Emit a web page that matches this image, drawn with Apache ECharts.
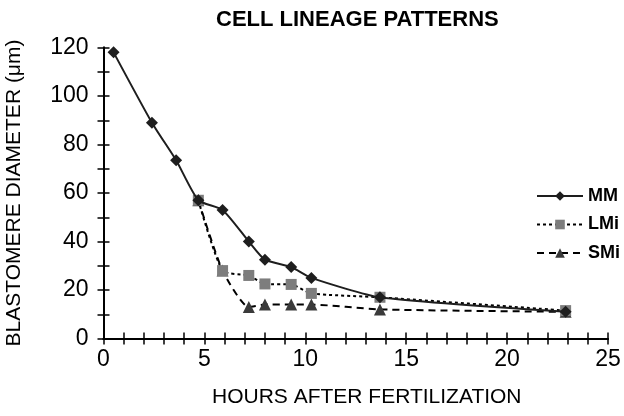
<!DOCTYPE html>
<html><head><meta charset="utf-8">
<script src="https://cdn.jsdelivr.net/npm/echarts@6/dist/echarts.min.js"></script>
<style>html,body{margin:0;padding:0;background:#fff}#c{width:624px;height:416px}</style>
</head><body><div id="c"></div>
<script>
const titleText = 'CELL LINEAGE PATTERNS';
const xName = 'HOURS AFTER FERTILIZATION';
const yName = 'BLASTOMERE DIAMETER (\u03bcm)';
const seriesNames = ['MM', 'LMi', 'SMi'];
const mmHours = [0.5, 2.4, 3.6, 4.7, 5.9, 7.2, 8.0, 9.3, 10.3, 13.7, 22.9];
const mmDiam  = [118, 89, 73.5, 57, 53, 40, 32.5, 29.5, 25, 17, 11];
const lmiHours = [4.7, 5.9, 7.2, 8.0, 9.3, 10.3, 13.7, 22.9];
const lmiDiam  = [57, 28, 26, 22.5, 22.3, 18.6, 17, 11.5];
const smiHours = [4.7, 5.9, 7.2, 8.0, 9.3, 10.3, 13.7, 22.9];
const smiDiam  = [57, 28, 13, 14, 14, 14, 12, 11];

const pairs = (xs, ys) => xs.map((x, i) => [x, ys[i]]);
const font = 'Liberation Sans, Arial, sans-serif';

const baseX = {
  type: 'value', min: 0, max: 25, interval: 1, position: 'bottom',
  splitLine: { show: false },
  axisLine: { show: true, lineStyle: { color: '#000', width: 2 } }
};
const baseY = {
  type: 'value', min: 0, max: 120, interval: 10, position: 'left',
  splitLine: { show: false },
  axisLine: { show: true, lineStyle: { color: '#000', width: 2 } }
};

const chart = echarts.init(document.getElementById('c'), null, { renderer: 'canvas' });
chart.setOption({
  backgroundColor: '#fff',
  animation: false,
  title: {
    text: titleText, left: 211, top: 4,
    textStyle: { fontFamily: font, fontWeight: 'bold', fontSize: 22, color: '#000' }
  },
  legend: {
    orient: 'vertical', left: 531, top: 182,
    itemWidth: 46, itemHeight: 12, itemGap: 10.5,
    data: seriesNames,
    textStyle: { fontFamily: font, fontWeight: 'bold', fontSize: 18, color: '#000' }
  },
  grid: { left: 103.5, right: 16, top: 47.5, bottom: 77.5, containLabel: false, outerBoundsMode: 'none' },
  xAxis: [
    Object.assign({}, baseX, {
      name: xName, nameLocation: 'middle', nameGap: 48,
      nameTextStyle: { fontFamily: font, fontSize: 21, color: '#000', padding: [0, 0, 0, 22] },
      axisTick: { show: true, inside: false, length: 6, lineStyle: { color: '#000', width: 1.5 } },
      axisLabel: { show: true, margin: 10, fontFamily: font, fontSize: 23, color: '#000',
        formatter: v => (v % 5 === 0 ? String(v) : '') }
    }),
    Object.assign({}, baseX, {
      axisTick: { show: true, inside: true, length: 6, lineStyle: { color: '#000', width: 1.5 } },
      axisLabel: { show: false }
    })
  ],
  yAxis: [
    Object.assign({}, baseY, {
      name: yName, nameLocation: 'middle', nameGap: 79,
      nameTextStyle: { fontFamily: font, fontSize: 21, color: '#000' },
      axisTick: { show: true, inside: false, length: 6, lineStyle: { color: '#000', width: 1.5 } },
      axisLabel: { show: true, margin: 15, fontFamily: font, fontSize: 23, color: '#000',
        formatter: v => (v % 20 === 0 ? String(v) : '') }
    }),
    Object.assign({}, baseY, {
      axisTick: { show: true, inside: true, length: 6, lineStyle: { color: '#000', width: 1.5 } },
      axisLabel: { show: false }
    })
  ],
  series: [
    {
      name: seriesNames[0], type: 'line', data: pairs(mmHours, mmDiam), smooth: 0.2,
      symbol: 'diamond', symbolSize: 12,
      itemStyle: { color: '#1e1e1e' },
      lineStyle: { color: '#1e1e1e', width: 2, type: 'solid' }, z: 3
    },
    {
      name: seriesNames[1], type: 'line', data: pairs(lmiHours, lmiDiam), smooth: 0.2,
      symbol: 'rect', symbolSize: 11,
      itemStyle: { color: '#7d7d7d' },
      lineStyle: { color: '#000', width: 2, type: [3, 3] }, z: 2
    },
    {
      name: seriesNames[2], type: 'line', data: pairs(smiHours, smiDiam), smooth: 0.2,
      symbol: 'triangle', symbolSize: 12,
      itemStyle: { color: '#3a3a3a' },
      lineStyle: { color: '#000', width: 2, type: [7, 5] }, z: 1
    }
  ]
});
</script></body></html>
